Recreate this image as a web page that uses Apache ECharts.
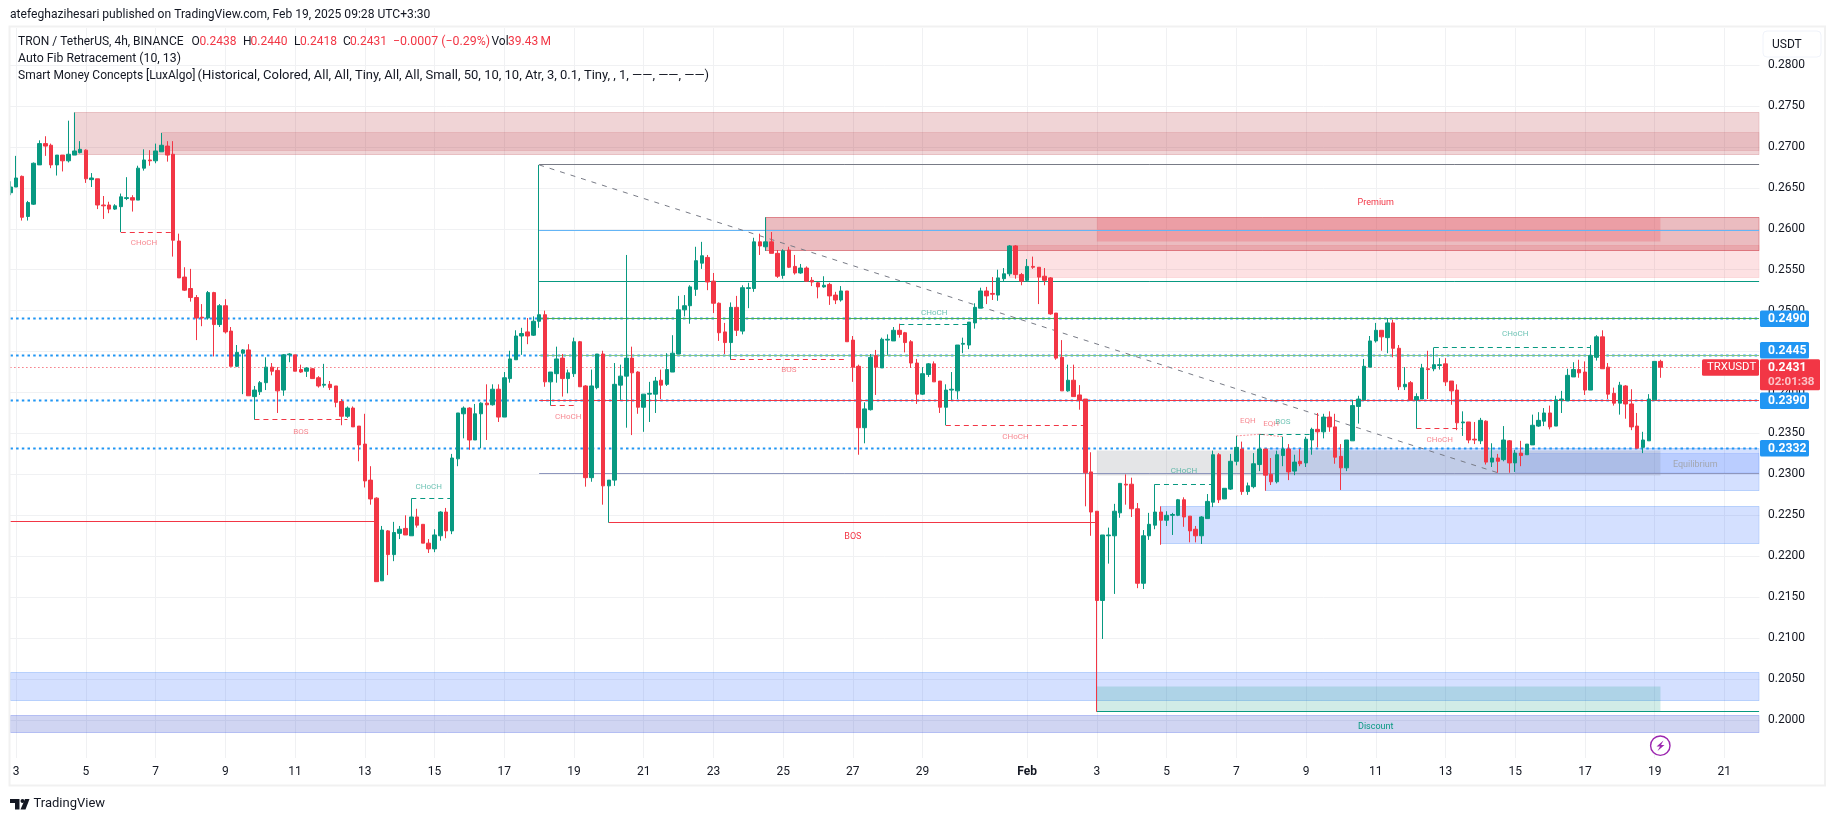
<!DOCTYPE html>
<html><head><meta charset="utf-8">
<style>html,body{margin:0;padding:0;background:#fff}#c{width:1835px;height:821px}</style>
<script src="https://cdn.jsdelivr.net/npm/echarts@6/dist/echarts.min.js"></script>
</head><body><div id="c"></div>
<script>
const opens=[
.2644,.2651,.2664,.2615,.2630,.2678,.2704,.2702,.2678,.2690,
.2683,.2690,.2693,.2696,.2660,.2661,.2629,.2629,.2624,.2627,
.2637,.2638,.2635,.2674,.2684,.2683,.2694,.2701,.2691,.2585,
.2541,.2527,.2516,.2492,.2491,.2522,.2483,.2506,.2475,.2432,
.2448,.2452,.2395,.2401,.2412,.2431,.2427,.2403,.2446,.2446,
.2428,.2426,.2429,.2418,.2409,.2410,.2408,.2389,.2371,.2381,
.2359,.2337,.2293,.2271,.2170,.2231,.2202,.2228,.2234,.2225,
.2248,.2239,.2216,.2209,.2225,.2254,.2231,.2319,.2374,.2381,
.2342,.2374,.2387,.2385,.2404,.2370,.2417,.2440,.2469,.2474,
.2470,.2487,.2495,.2413,.2423,.2442,.2417,.2423,.2462,.2408,
.2296,.2406,.2447,.2286,.2293,.2409,.2420,.2442,.2425,.2382,
.2398,.2398,.2415,.2410,.2425,.2447,.2501,.2506,.2526,.2558,
.2565,.2536,.2509,.2474,.2461,.2504,.2475,.2527,.2527,.2584,
.2578,.2584,.2570,.2543,.2574,.2554,.2546,.2552,.2537,.2534,
.2529,.2532,.2519,.2513,.2524,.2464,.2432,.2357,.2379,.2445,
.2430,.2464,.2463,.2476,.2473,.2462,.2436,.2398,.2422,.2435,
.2414,.2382,.2403,.2402,.2459,.2458,.2485,.2503,.2524,.2521,
.2519,.2539,.2545,.2579,.2544,.2537,.2554,.2553,.2542,.2540,
.2497,.2443,.2402,.2415,.2397,.2392,.2303,.2255,.2146,.2225,
.2225,.2253,.2288,.2288,.2258,.2167,.2225,.2238,.2254,.2244,
.2250,.2250,.2269,.2249,.2233,.2225,.2246,.2266,.2324,.2270,
.2282,.2316,.2331,.2279,.2285,.2312,.2331,.2300,.2291,.2323,
.2331,.2304,.2316,.2314,.2342,.2355,.2352,.2370,.2358,.2322,
.2308,.2341,.2383,.2391,.2431,.2463,.2476,.2467,.2485,.2454,
.2407,.2412,.2391,.2392,.2429,.2429,.2433,.2435,.2414,.2403,
.2363,.2364,.2343,.2341,.2365,.2315,.2320,.2318,.2341,.2314,
.2326,.2324,.2336,.2359,.2365,.2375,.2359,.2391,.2390,.2419,
.2428,.2425,.2403,.2443,.2468,.2431,.2399,.2387,.2408,.2386,
.2359,.2333,.2341,.2391,.2438];
const highs=[
.2658,.2689,.2665,.2634,.2681,.2708,.2713,.2704,.2690,.2690,
.2732,.2742,.2707,.2697,.2668,.2661,.2640,.2633,.2630,.2643,
.2663,.2641,.2677,.2697,.2696,.2704,.2717,.2707,.2707,.2594,
.2553,.2551,.2519,.2508,.2524,.2523,.2508,.2514,.2480,.2458,
.2453,.2459,.2408,.2414,.2443,.2436,.2431,.2447,.2448,.2446,
.2434,.2431,.2430,.2420,.2435,.2414,.2408,.2392,.2383,.2383,
.2359,.2374,.2310,.2272,.2237,.2232,.2242,.2237,.2250,.2270,
.2258,.2239,.2221,.2233,.2255,.2259,.2325,.2375,.2383,.2382,
.2386,.2388,.2410,.2410,.2410,.2425,.2451,.2476,.2479,.2491,
.2493,.2678,.2500,.2425,.2456,.2447,.2428,.2467,.2463,.2409,
.2428,.2447,.2451,.2293,.2436,.2434,.2568,.2456,.2426,.2398,
.2413,.2419,.2428,.2448,.2470,.2518,.2519,.2531,.2578,.2584,
.2568,.2546,.2510,.2485,.2510,.2518,.2531,.2534,.2589,.2594,
.2614,.2596,.2574,.2575,.2578,.2568,.2557,.2554,.2541,.2535,
.2542,.2534,.2523,.2530,.2524,.2469,.2434,.2388,.2447,.2452,
.2467,.2471,.2480,.2484,.2474,.2464,.2441,.2431,.2436,.2438,
.2414,.2410,.2425,.2458,.2467,.2486,.2509,.2528,.2529,.2541,
.2550,.2552,.2580,.2580,.2546,.2563,.2566,.2553,.2552,.2541,
.2497,.2464,.2434,.2434,.2409,.2392,.2327,.2255,.2226,.2235,
.2264,.2289,.2300,.2296,.2265,.2232,.2253,.2288,.2261,.2255,
.2253,.2270,.2272,.2249,.2237,.2249,.2276,.2329,.2326,.2283,
.2325,.2347,.2340,.2290,.2326,.2349,.2331,.2320,.2329,.2346,
.2337,.2324,.2331,.2346,.2357,.2375,.2374,.2377,.2374,.2337,
.2342,.2391,.2396,.2441,.2469,.2485,.2476,.2491,.2489,.2458,
.2431,.2414,.2399,.2435,.2451,.2455,.2442,.2442,.2414,.2410,
.2377,.2364,.2364,.2369,.2366,.2338,.2325,.2359,.2342,.2330,
.2341,.2337,.2373,.2376,.2381,.2384,.2396,.2402,.2429,.2437,
.2440,.2438,.2458,.2470,.2476,.2436,.2406,.2413,.2409,.2404,
.2375,.2352,.2398,.2438,.2440];
const lows=[
.2641,.2651,.2610,.2610,.2629,.2678,.2689,.2674,.2665,.2670,
.2681,.2690,.2692,.2656,.2651,.2624,.2612,.2619,.2623,.2596,
.2635,.2621,.2635,.2671,.2677,.2680,.2694,.2682,.2566,.2540,
.2524,.2511,.2464,.2481,.2489,.2444,.2480,.2472,.2432,.2431,
.2398,.2396,.2367,.2397,.2403,.2421,.2375,.2396,.2437,.2426,
.2424,.2419,.2417,.2406,.2406,.2403,.2382,.2360,.2369,.2358,
.2316,.2284,.2263,.2169,.2170,.2177,.2194,.2221,.2226,.2225,
.2235,.2216,.2204,.2205,.2219,.2222,.2227,.2310,.2344,.2330,
.2342,.2332,.2342,.2384,.2364,.2370,.2412,.2440,.2446,.2459,
.2469,.2479,.2407,.2384,.2412,.2395,.2399,.2419,.2407,.2285,
.2291,.2404,.2263,.2241,.2286,.2391,.2357,.2348,.2374,.2352,
.2364,.2375,.2392,.2408,.2425,.2447,.2493,.2484,.2518,.2551,
.2525,.2497,.2463,.2447,.2440,.2469,.2471,.2503,.2523,.2568,
.2573,.2570,.2540,.2539,.2552,.2544,.2545,.2535,.2530,.2515,
.2528,.2507,.2508,.2511,.2462,.2413,.2324,.2338,.2378,.2397,
.2430,.2446,.2463,.2467,.2449,.2430,.2386,.2397,.2419,.2413,
.2375,.2360,.2391,.2392,.2448,.2453,.2478,.2503,.2508,.2513,
.2512,.2535,.2542,.2539,.2531,.2535,.2551,.2508,.2531,.2495,
.2440,.2402,.2401,.2395,.2379,.2261,.2225,.2010,.2099,.2191,
.2154,.2247,.2263,.2248,.2161,.2160,.2220,.2233,.2214,.2237,
.2226,.2249,.2236,.2217,.2217,.2215,.2246,.2260,.2265,.2270,
.2281,.2311,.2275,.2275,.2283,.2304,.2280,.2287,.2289,.2310,
.2293,.2299,.2310,.2309,.2324,.2333,.2344,.2352,.2313,.2281,
.2304,.2341,.2362,.2391,.2431,.2461,.2451,.2448,.2443,.2403,
.2403,.2391,.2356,.2392,.2392,.2426,.2428,.2408,.2385,.2354,
.2347,.2338,.2337,.2337,.2312,.2309,.2302,.2316,.2302,.2303,
.2310,.2324,.2336,.2358,.2359,.2355,.2359,.2375,.2390,.2419,
.2418,.2397,.2403,.2439,.2429,.2392,.2384,.2373,.2368,.2354,
.2332,.2326,.2341,.2391,.2418];
const closes=[
.2651,.2662,.2614,.2632,.2680,.2704,.2701,.2678,.2690,.2683,
.2691,.2695,.2697,.2661,.2662,.2629,.2628,.2624,.2628,.2639,
.2638,.2635,.2674,.2684,.2683,.2695,.2702,.2690,.2586,.2540,
.2525,.2516,.2491,.2491,.2522,.2483,.2506,.2474,.2432,.2449,
.2452,.2396,.2403,.2412,.2431,.2426,.2402,.2446,.2447,.2426,
.2425,.2430,.2417,.2408,.2410,.2406,.2388,.2371,.2381,.2358,
.2336,.2292,.2270,.2169,.2232,.2202,.2229,.2233,.2226,.2248,
.2238,.2216,.2209,.2226,.2254,.2231,.2320,.2375,.2381,.2342,
.2374,.2387,.2385,.2404,.2370,.2418,.2441,.2469,.2472,.2469,
.2487,.2495,.2413,.2425,.2441,.2417,.2424,.2462,.2407,.2296,
.2408,.2447,.2286,.2293,.2410,.2420,.2442,.2424,.2382,.2398,
.2399,.2414,.2409,.2428,.2448,.2501,.2506,.2529,.2561,.2567,
.2535,.2509,.2473,.2461,.2504,.2476,.2528,.2528,.2584,.2579,
.2584,.2570,.2542,.2573,.2553,.2546,.2552,.2536,.2535,.2529,
.2531,.2518,.2513,.2524,.2462,.2431,.2357,.2380,.2443,.2431,
.2465,.2465,.2476,.2471,.2461,.2436,.2398,.2423,.2435,.2413,
.2382,.2403,.2404,.2458,.2460,.2486,.2504,.2524,.2518,.2520,
.2540,.2545,.2579,.2544,.2536,.2554,.2553,.2541,.2537,.2496,
.2442,.2402,.2415,.2395,.2391,.2302,.2254,.2146,.2226,.2226,
.2255,.2289,.2287,.2258,.2167,.2225,.2239,.2254,.2244,.2250,
.2251,.2269,.2248,.2231,.2225,.2248,.2267,.2324,.2269,.2283,
.2316,.2333,.2279,.2286,.2313,.2331,.2299,.2291,.2324,.2331,
.2303,.2315,.2313,.2343,.2355,.2352,.2370,.2358,.2321,.2308,
.2342,.2384,.2392,.2432,.2463,.2476,.2468,.2485,.2454,.2407,
.2410,.2391,.2395,.2430,.2428,.2434,.2434,.2413,.2402,.2363,
.2364,.2342,.2342,.2366,.2315,.2320,.2316,.2342,.2314,.2326,
.2323,.2337,.2360,.2366,.2375,.2358,.2391,.2392,.2421,.2428,
.2424,.2403,.2445,.2468,.2429,.2398,.2387,.2409,.2386,.2358,
.2332,.2342,.2392,.2438,.2431];

// time axis: one tick label every 12 bars starting at bar 1
const janLabels=['3','5','7','9','11','13','15','17','19','21','23','25','27','29'];
const febLabels=['3','5','7','9','11','13','15','17','19','21'];
const priceTicks=[.2,.205,.21,.215,.22,.225,.23,.235,.24,.245,.25,.255,.26,.265,.27,.275,.28];

// zones: [first bar, last bar, top price, bottom price]
const zoneSupplyWide=[[11,301,.2742,.2691]];
const zoneSupplyInner=[[26,301,.2717,.2696]];
const zoneSupplyMid=[[130,301,.2614,.2573]];
const zoneSupplyLight=[[172,301,.2580,.2541]];
const zonePremium=[[187,284,.2614,.2584]];
const zoneEquilibrium=[[187,284,.2329,.2299]];
const zoneDiscount=[[187,284,.20415,.2010]];
const zoneDemand=[[216,301,.2332,.2280],[198,301,.2261,.2215],[0,301,.2058,.2024]];
const zoneDemandInner=[[259,301,.2325,.2302]];
const zoneDemandLow=[[0,301,.2005,.1985]];

const fibPrices=[.2678,.2598,.2535,.2490,.2445,.2390,.2301];
const fibColors=['#787b86','#64b5f6','#089981','#4caf50','#81c784','#f23645','#8e96bd'];
const fibRange=[91,301];
const bosLines=[[0,63,.2242],[103,187,.2241]];
const discountLine=[[187,301,.2010]];
const dottedPrices=[.2490,.2445,.2390,.2332];
const lastPrice=.2431;
const dashedRed=[[19,28,.2596],[42,58,.2367],[93,97,.2384],[124,144,.2440],[161,185,.2360],[242,250,.2356]];
const dashedGreen=[[69,76,.2270],[153,165,.2483],[197,207,.2288],[215,224,.2349],[245,272,.2455]];
const eqhLines=[[211,.2347,215,.2349],[215,.2349,219,.2346]];
const fibDiagonal=[[91,.2678,256,.2302]];
// labels: [text, bar, price]
const redLabels=[['CHoCH',22.8,.2582],['BOS',50,.2352],['CHoCH',95.8,.2370],['BOS',134,.2427],['CHoCH',173,.2346],['EQH',212.9,.2365],['EQH',217,.2361],['CHoCH',246,.2342]];
const greenLabels=[['CHoCH',72,.2284],['CHoCH',158.8,.2497],['CHoCH',201.9,.2304],['BOS',219,.2364],['CHoCH',258.8,.2471]];
const bigLabels=[['BOS',144.8,.2224,'#f23645'],['Premium',235,.2632,'#f23645'],['Equilibrium',290,.2312,'#a3a6af'],['Discount',235,.1992,'#089981']];
const tagPrices=[.2490,.2445,.2390,.2332];
const tagShift=[0,-5.4,0,0];

const BAR_SLOTS=302, BAND=5.81, GL=7.5, GT=28, GB=758;
const RED='#f23645',GREEN='#089981',FONT='Roboto, "Noto Sans", sans-serif';

const tickAt={};
janLabels.forEach((t,k)=>{tickAt[1+12*k]=t});
tickAt[175]='Feb';
febLabels.forEach((t,k)=>{tickAt[187+12*k]=t});
const categories=Array.from({length:BAR_SLOTS},(_,i)=>tickAt[i]||'');
const isTick=i=>tickAt[i]!==undefined;
const candles=opens.map((o,i)=>[o,closes[i],lows[i],highs[i]]);

function custom(rows,render,z){
  return {type:'custom',silent:true,animation:false,z:z===undefined?1:z,
    data:rows.map((r,i)=>[i]),encode:{x:0,y:-1},
    renderItem:(p,api)=>render(rows[p.dataIndex],api,p)};
}
const crisp=y=>Math.round(y-.5)+.5;
function zones(rows,fill,stroke){
  return custom(rows,(r,api)=>{
    const a=api.coord([r[0],r[2]]),b=api.coord([r[1],r[3]]);
    const y1=crisp(a[1]),y2=crisp(b[1]);
    return {type:'rect',shape:{x:a[0],y:y1,width:b[0]-a[0],height:y2-y1},style:{fill:fill,stroke:stroke,lineWidth:stroke?1:0}};
  });
}
function hlines(rows,color,width,dash,z){
  return custom(rows,(r,api)=>{
    const a=api.coord([r[0],r[2]]),b=api.coord([r[1],r[2]]);
    const y=crisp(a[1]);
    return {type:'line',shape:{x1:a[0],y1:y,x2:b[0],y2:y},style:{stroke:color,lineWidth:width,lineDash:dash||null}};
  },z);
}
function segs(rows,color,width,dash){
  return custom(rows,(r,api)=>{
    const a=api.coord([r[0],r[1]]),b=api.coord([r[2],r[3]]);
    return {type:'line',shape:{x1:a[0],y1:a[1],x2:b[0],y2:b[1]},style:{stroke:color,lineWidth:width,lineDash:dash||null}};
  });
}
function labels(rows,size,colorOf,op){
  return custom(rows,(r,api)=>{
    const a=api.coord([r[1],r[2]]);
    return {type:'text',style:{text:r[0],x:a[0],y:a[1],fill:colorOf(r),opacity:op,font:size+'px '+FONT,align:'center',verticalAlign:'middle'}};
  },5);
}
const tagFont='bold 12.2px '+FONT;
const fibRow=p=>[fibRange[0],fibRange[1],p];

const series=[
  zones(zoneSupplyWide,'rgba(178,40,51,.2)','rgba(178,40,51,.22)'),
  zones(zoneSupplyInner,'rgba(178,40,51,.13)','rgba(178,40,51,.12)'),
  zones(zoneDemand,'rgba(41,98,255,.2)','rgba(33,110,243,.25)'),
  zones(zoneDemandLow,'rgba(60,80,200,.24)','rgba(60,90,230,.3)'),
  zones(zoneDemandInner,'rgba(41,98,255,.15)','rgba(41,98,255,.15)'),
  zones(zoneSupplyLight,'rgba(242,54,69,.15)','rgba(242,54,69,.12)'),
  zones(zoneSupplyMid,'rgba(190,40,51,.31)','rgba(200,40,51,.5)'),
  zones(zonePremium,'rgba(242,54,69,.22)',null),
  zones(zoneEquilibrium,'rgba(120,123,134,.2)',null),
  zones(zoneDiscount,'rgba(8,153,129,.19)',null),
  hlines(dottedPrices.map(p=>[0,301,p]),'#2196f3',2,[2.5,3.2]),
  ...fibPrices.map((p,k)=>hlines([fibRow(p)],fibColors[k],1)),
  hlines([[0,301,lastPrice]],RED,1,[1,3]),
  hlines(bosLines,RED,1),
  hlines(discountLine,GREEN,1),
  hlines(dashedRed,RED,1,[5,4]),
  hlines(dashedGreen,GREEN,1,[5,4]),
  segs(eqhLines,'rgba(242,54,69,.55)',1,[2,1.5]),
  segs(fibDiagonal,'#787b86',1,[5,6]),
  {type:'candlestick',z:3,animation:false,silent:true,barWidth:4,data:candles,
    itemStyle:{color:GREEN,color0:RED,borderColor:GREEN,borderColor0:RED,borderWidth:1}},
  labels(redLabels,8,()=>RED,.6),
  labels(greenLabels,8,()=>GREEN,.6),
  labels(bigLabels,9,r=>r[3],1),
  custom(tagPrices,(p,api,ctx)=>{
    const y=api.coord([0,p])[1]+tagShift[ctx.dataIndex];
    return {type:'group',children:[
      {type:'rect',shape:{x:1760,y:y-8.3,width:49,height:16.6,r:1.5},style:{fill:'#2196f3'}},
      {type:'text',style:{text:p.toFixed(4),x:1768,y:y+.5,fill:'#fff',font:tagFont,verticalAlign:'middle'}}
    ]};
  },60),
  custom([lastPrice],(p,api)=>{
    const y=api.coord([0,p])[1];
    return {type:'group',children:[
      {type:'rect',shape:{x:1702,y:y-8,width:57,height:16.6,r:1.5},style:{fill:RED}},
      {type:'text',style:{text:'TRXUSDT',x:1707,y:y+.5,fill:'#fff',font:'11.4px '+FONT,verticalAlign:'middle'}},
      {type:'rect',shape:{x:1760,y:y-8,width:60,height:31,r:1.5},style:{fill:RED}},
      {type:'text',style:{text:p.toFixed(4),x:1768,y:y+1,fill:'#fff',font:tagFont,verticalAlign:'middle'}},
      {type:'text',style:{text:'02:01:38',x:1768,y:y+15,fill:'rgba(255,255,255,.7)',font:'bold 11.6px '+FONT,verticalAlign:'middle'}}
    ]};
  },61)
];

const INK='#131722';
const txt=(t,x,y,fill,size,extra)=>({type:'text',z:70,silent:true,style:Object.assign({text:t,x:x,y:y,fill:fill||INK,font:(size||12)+'px '+FONT,verticalAlign:'middle'},extra||{})});
const graphic=[
  {type:'rect',z:50,silent:true,shape:{x:1759.5,y:GT-1,width:7,height:GB-GT+2},style:{fill:'#fff'}},
  {type:'rect',z:50,silent:true,shape:{x:0,y:GT-1,width:9.5,height:GB-GT+2},style:{fill:'#fff'}},
  {type:'rect',z:51,silent:true,shape:{x:9.5,y:26.5,width:1815.5,height:759},style:{fill:'transparent',stroke:'#f1f1f1',lineWidth:2}},
  txt('atefeghazihesari published on TradingView.com, Feb 19, 2025 09:28 UTC+3:30',10,15,INK,12.1),
  txt('TRON / TetherUS, 4h, BINANCE',18,41.5),
  txt('O',191.5,41.5),txt('0.2438',199.5,41.5,RED),
  txt('H',243,41.5),txt('0.2440',250.5,41.5,RED),
  txt('L',294,41.5),txt('0.2418',300,41.5,RED),
  txt('C',343,41.5),txt('0.2431',350,41.5,RED),
  txt('\u22120.0007 (\u22120.29%)',393,41.5,RED,12.4),
  txt('Vol',491.5,41.5),txt('39.43\u2009M',508,41.5,RED),
  txt('Auto Fib Retracement (10, 13)',18,59,INK,12.3),
  txt('Smart Money Concepts [LuxAlgo]',18,76),
  txt('(Historical, Colored, All, All, Tiny, All, All, Small, 50, 10, 10, Atr, 3, 0.1, Tiny, , 1, \u2014\u2014, \u2014\u2014, \u2014\u2014)',197.5,76,INK,13),
  {type:'rect',z:70,silent:true,shape:{x:1763,y:31,width:58,height:26,r:4},style:{fill:'#fff',stroke:'#f0f3fa',lineWidth:1}},
  txt('USDT',1772,44.5),
  {type:'circle',z:70,silent:true,shape:{cx:1660.3,cy:745.7,r:9.7},style:{fill:'#fff',stroke:'#9c27b0',lineWidth:1.4}},
  {type:'polygon',z:71,silent:true,shape:{points:[[1663.5,740.5],[1656.5,746.5],[1660,746.5],[1657.5,751],[1664.5,745],[1661,745]]},style:{fill:'#9c27b0'}},
  {type:'polygon',z:70,silent:true,shape:{points:[[10,799],[19.5,799],[19.5,809.5],[15,809.5],[15,803],[10,803]]},style:{fill:INK}},
  {type:'circle',z:70,silent:true,shape:{cx:22.5,cy:801,r:2},style:{fill:INK}},
  {type:'polygon',z:70,silent:true,shape:{points:[[25,799],[29.5,799],[25.5,809.5],[20.5,809.5]]},style:{fill:INK}},
  txt('TradingView',33.5,804,'#131722',13)
];

const chart=echarts.init(document.getElementById('c'),null,{renderer:'canvas'});
chart.setOption({
  animation:false,backgroundColor:'#fff',tooltip:{show:false},
  grid:{left:GL,top:GT,width:BAND*BAR_SLOTS,height:GB-GT,containLabel:false},
  xAxis:{type:'category',data:categories,boundaryGap:true,
    axisLine:{show:false},axisTick:{show:false,alignWithLabel:true,interval:i=>isTick(i)},
    splitLine:{show:true,alignWithLabel:true,interval:i=>isTick(i),lineStyle:{color:'#f0f1f3',width:1}},
    axisLabel:{interval:i=>isTick(i),margin:8,color:INK,fontFamily:'Roboto',fontSize:12,hideOverlap:false,
      formatter:v=>v==='Feb'?'{b|Feb}':v,rich:{b:{fontWeight:'bold',fontSize:12,fontFamily:'Roboto',color:INK}}}},
  yAxis:{type:'value',position:'right',min:.19536,max:.28452,
    axisLine:{show:false},
    axisTick:{show:false,customValues:priceTicks},
    splitLine:{show:true,lineStyle:{color:'#f0f1f3',width:1}},
    axisLabel:{customValues:priceTicks,margin:6,padding:[2,0,0,0],color:INK,fontFamily:'Roboto',fontSize:12,formatter:v=>v.toFixed(4)}},
  series:series,graphic:graphic
});
</script></body></html>
